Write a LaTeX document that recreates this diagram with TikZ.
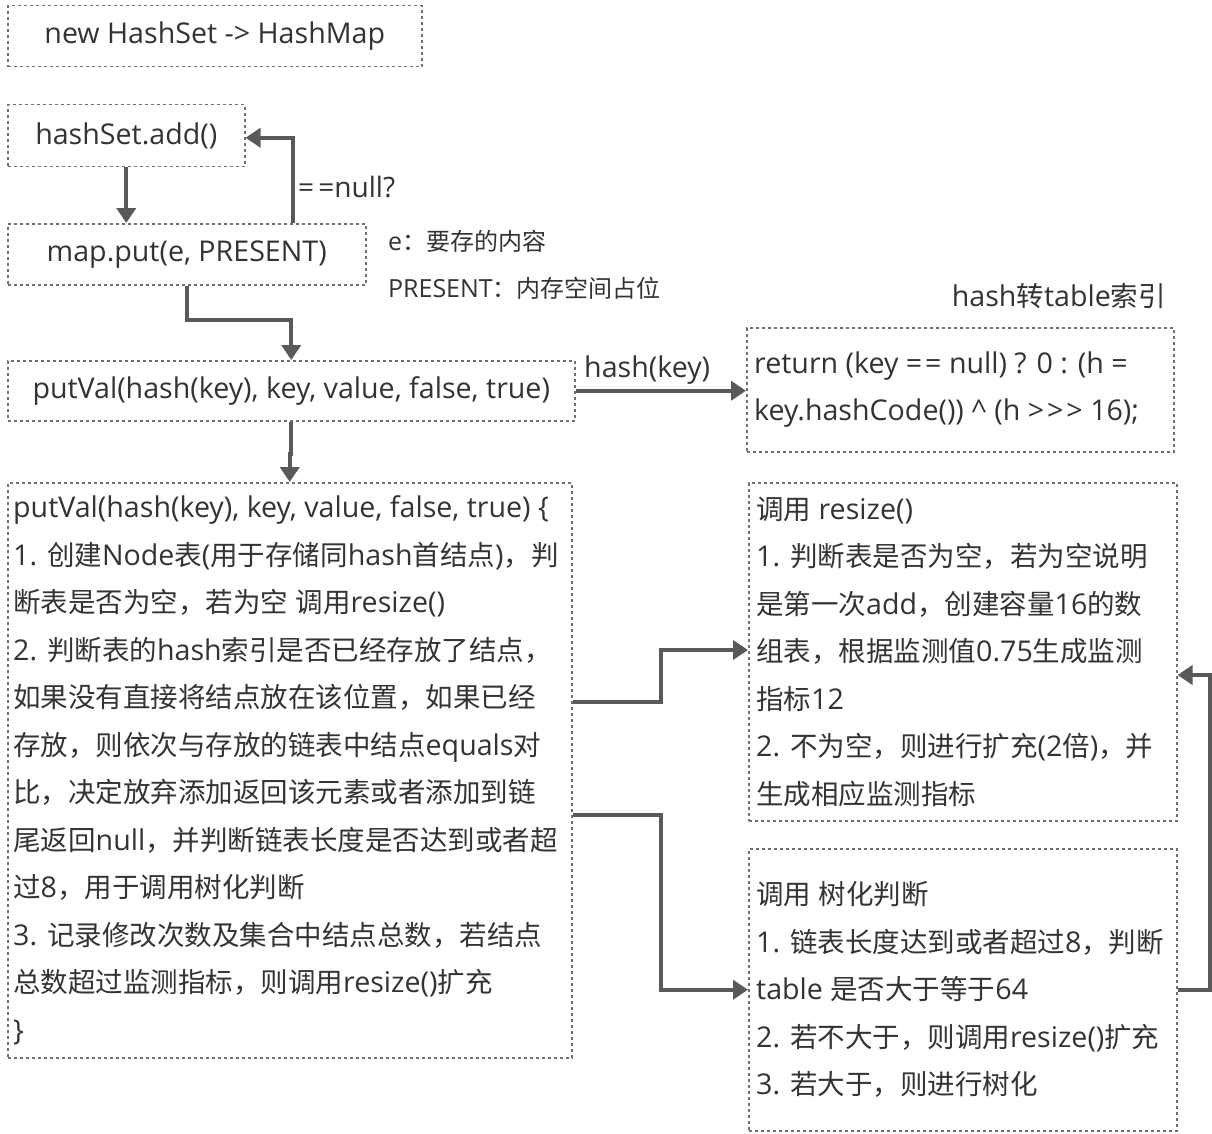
\documentclass[tikz,border=0pt]{standalone}
\usepackage{fontspec}
\setmainfont[Scale=1.04]{Open Sans}
\newfontfamily\latinf[Scale=1.04]{Open Sans}
\newfontfamily\cjkf{Noto Sans CJK SC}
\usetikzlibrary{arrows.meta,calc}
\XeTeXinterchartokenstate=1
\newXeTeXintercharclass\CJKcls
\makeatletter
\count@="4E00
\loop\XeTeXcharclass\count@=\CJKcls\ifnum\count@<"9FFF\advance\count@ by 1 \repeat
\count@="3000
\loop\XeTeXcharclass\count@=\CJKcls\ifnum\count@<"303F\advance\count@ by 1 \repeat
\count@="FF00
\loop\XeTeXcharclass\count@=\CJKcls\ifnum\count@<"FFEF\advance\count@ by 1 \repeat
\makeatother
\XeTeXinterchartoks 0 \CJKcls={\cjkf}
\XeTeXinterchartoks 4095 \CJKcls={\cjkf}
\XeTeXinterchartoks \CJKcls 0={\latinf}
\XeTeXinterchartoks \CJKcls 4095={\latinf}
\definecolor{txt}{HTML}{333333}
\definecolor{boxc}{HTML}{707070}
\definecolor{arrc}{HTML}{595959}
\newcommand\eqeq{=\kern3pt=}
\begin{document}
\begin{tikzpicture}[x=1pt,y=-1pt,
  font=\fontsize{27.5}{47.5}\selectfont, text=txt,
  box/.style={draw=boxc, line width=1.5pt, dash pattern=on 3pt off 3pt, inner sep=0pt, anchor=north west},
  arr/.style={draw=arrc, line width=4pt, -{Triangle[length=15pt,width=19pt]}},
  lbl/.style={inner sep=0pt},
  small/.style={font=\fontsize{24}{30}\selectfont}]
\useasboundingbox (0,0) rectangle (1212,1134);
\node[box, minimum width=414, minimum height=61] (hs) at (7,5) {new HashSet -> HashMap};
\node[box, minimum width=237, minimum height=62] (add) at (7,104) {hashSet.add()};
\node[box, minimum width=358, minimum height=61] (put) at (7,223) {map.put(e, PRESENT)};
\node[box, minimum width=567, minimum height=60] (pv) at (7,360) {putVal(hash(key), key, value, false, true)};
\node[box, minimum width=564, minimum height=575] (big) at (7,482) {};
\node[lbl, anchor=west, align=left] (bigt) at ($(big.west)+(6,0)$) {putVal(hash(key), key, value, false, true) \{\\
1. 创建Node表(用于存储同hash首结点)，判\\
断表是否为空，若为空 调用resize()\\
2. 判断表的hash索引是否已经存放了结点，\\
如果没有直接将结点放在该位置，如果已经\\
存放，则依次与存放的链表中结点equals对\\
比，决定放弃添加返回该元素或者添加到链\\
尾返回null，并判断链表长度是否达到或者超\\
过8，用于调用树化判断\\
3. 记录修改次数及集合中结点总数，若结点\\
总数超过监测指标，则调用resize()扩充\\
\}};
\node[box, minimum width=427, minimum height=124] (ret) at (746,327) {};
\node[lbl, anchor=west, align=left] (rett) at ($(ret.west)+(8,0)$) {return (key \eqeq{} null) ? 0 : (h =\\
key.hashCode()) \textasciicircum{} (h >\kern3pt>\kern3pt> 16);};
\node[box, minimum width=428, minimum height=338] (rs) at (748,482) {};
\node[lbl, anchor=west, align=left] (rst) at ($(rs.west)+(8,0)$) {调用 resize()\\
1. 判断表是否为空，若为空说明\\
是第一次add，创建容量16的数\\
组表，根据监测值0.75生成监测\\
指标12\\
2. 不为空，则进行扩充(2倍)，并\\
生成相应监测指标};
\node[box, minimum width=428, minimum height=282] (tr) at (748,848) {};
\node[lbl, anchor=west, align=left] (trt) at ($(tr.west)+(8,0)$) {调用 树化判断\\
1. 链表长度达到或者超过8，判断\\
table 是否大于等于64\\
2. 若不大于，则调用resize()扩充\\
3. 若大于，则进行树化};
\node[lbl, anchor=west, font=\fontsize{27}{30}\selectfont] (nul) at (298,187) {=\kern4pt=null?};
\node[lbl, anchor=west, small] (enote) at (388,241) {e：要存的内容};
\node[lbl, anchor=west, small] (pnote) at (388,288) {PRESENT：内存空间占位};
\node[lbl, anchor=east] (htab) at (1166,296) {hash转table索引};
\node[lbl, anchor=west] (hkey) at (584,370) {hash(key)};
% connectors
\draw[arr] (add.south) -- (add.south |- put.north);
\draw[arr] ($(put.north west)+(286,0)$) |- ($(add.east)+(0,2)$);
\draw[arr] (put.south) -- ++(0,34) -| (pv.north);
\draw[arr] (pv.south) -- ++(0,32) -| (big.north);
\draw[arr] (pv.east) -- (pv.east -| ret.west);
\draw[arr] ($(big.north east)+(0,220)$) -- ++(88,0) |- ($(rs.north west)+(0,168)$);
\draw[arr] ($(big.north east)+(0,333)$) -- ++(88,0) |- (tr.west);
\draw[arr] (tr.east) -- ++(32,0) |- ($(rs.north east)+(0,193)$);
\end{tikzpicture}
\end{document}
